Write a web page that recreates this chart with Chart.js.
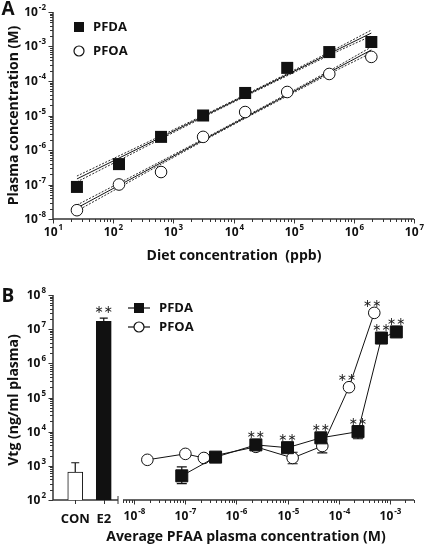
<!DOCTYPE html>
<html>
<head>
    <title>PFDA / PFOA plasma levels and Vtg</title>
    <script src="https://cdn.jsdelivr.net/npm/chart.js"></script>
    <style>
        body {
            margin: 0;
            background: #fff;
        }
        #wrap {
            position: relative;
            width: 426px;
            height: 549px;
        }
        #wrap canvas {
            position: absolute;
            left: 0;
            top: 0;
        }
    </style>
</head>
<body>
    <div id="wrap">
        <canvas id="chartA" width="426" height="549"></canvas>
        <canvas id="chartBars" width="426" height="549"></canvas>
        <canvas id="chartB" width="426" height="549"></canvas>
    </div>

    <script>
        // ---- Panel A: plasma vs diet ----
        const dietPpb = [25, 125, 625, 3125, 15625, 78125, 390625, 1953125];
        const pfdaPlasma = [8.5e-8, 3.9e-7, 2.4e-6, 1.0e-5, 4.5e-5, 2.4e-4, 6.9e-4, 1.35e-3];
        const pfoaPlasma = [1.8e-8, 1.0e-7, 2.3e-7, 2.4e-6, 1.26e-5, 4.8e-5, 1.6e-4, 5.0e-4];

        // regression lines and 95% bands at these diet levels
        const fitX = [25, 625, 6900, 390625, 1953125];
        const pfdaFit = [1.45e-7, 2.34e-6, 1.86e-5, 6.17e-4, 2.45e-3];
        const pfdaFitHi = [1.76e-7, 2.6e-6, 1.97e-5, 6.84e-4, 2.99e-3];
        const pfdaFitLo = [1.19e-7, 2.11e-6, 1.76e-5, 5.56e-4, 2.02e-3];
        const pfoaFit = [2.09e-8, 4.27e-7, 4.07e-6, 1.78e-4, 7.94e-4];
        const pfoaFitHi = [2.54e-8, 4.73e-7, 4.31e-6, 1.97e-4, 9.66e-4];
        const pfoaFitLo = [1.72e-8, 3.85e-7, 3.85e-6, 1.60e-4, 6.53e-4];

        // ---- Panel B: Vtg ----
        const ctrlLabels = ['CON', 'E2'];
        const ctrlVtg = [660, 1.7e7];
        const ctrlVtgHi = [1230, 2.1e7];
        const ctrlSig = [false, true];

        // x values of panel B are the plasma concentrations above
        const pfdaVtg = [510, 1800, 4100, 3400, 6600, 1.0e4, 5.5e6, 8.3e6];
        const pfdaVtgLo = [300, null, null, null, null, 6200, null, null];
        const pfdaVtgHi = [930, null, null, null, null, 14800, null, null];
        const pfdaSig = [0, 0, 1, 1, 1, 1, 1, 1];

        const pfoaVtg = [1500, 2240, 1700, 3600, 1700, 3800, 2.0e5, 3.0e7];
        const pfoaVtgLo = [null, null, null, null, 1150, 2400, null, null];
        const pfoaVtgHi = [null, null, null, null, 2500, 6000, null, null];
        const pfoaSig = [0, 0, 0, 0, 0, 0, 1, 1];

        const FONT = '"Open Sans", Lato, sans-serif';
        const INK = '#111';
        const AXIS = '#333';

        // ---- drawing helpers ----
        function xy(a, b) {
            return a.map((v, i) => ({ x: v, y: b[i] }));
        }

        function logTicks(min, max) {
            const out = [];
            const d0 = Math.floor(Math.log10(min) + 1e-9);
            const d1 = Math.ceil(Math.log10(max) - 1e-9);
            for (let d = d0; d <= d1; d++) {
                for (let k = 1; k < 10; k++) {
                    const v = k * Math.pow(10, d);
                    if (v >= min * 0.999 && v <= max * 1.001) out.push({ v: v, major: k === 1, exp: d });
                }
            }
            return out;
        }

        // "10" with raised exponent
        function powLabel(ctx, x, y, exp, align) {
            ctx.font = 'bold 12px ' + FONT;
            const wb = ctx.measureText('10').width;
            ctx.font = 'bold 8px ' + FONT;
            const es = String(exp);
            const we = ctx.measureText(es).width;
            const total = wb + 1 + we;
            const x0 = align === 'right' ? x - total : x - total / 2;
            ctx.fillStyle = INK;
            ctx.textAlign = 'left';
            ctx.textBaseline = 'middle';
            ctx.font = 'bold 12px ' + FONT;
            ctx.fillText('10', x0, y);
            ctx.font = 'bold 8px ' + FONT;
            ctx.fillText(es, x0 + wb + 1, y - 5);
        }

        function drawLogX(ctx, scale, y, x1, x2, labelY) {
            ctx.save();
            ctx.strokeStyle = AXIS;
            ctx.lineWidth = 1.5;
            ctx.beginPath();
            ctx.moveTo(x1, y);
            ctx.lineTo(x2, y);
            ctx.stroke();
            ctx.lineWidth = 1;
            logTicks(scale.min, scale.max).forEach(t => {
                const px = Math.round(scale.getPixelForValue(t.v)) + 0.5;
                ctx.beginPath();
                ctx.moveTo(px, y);
                ctx.lineTo(px, y + (t.major ? 4.5 : 3));
                ctx.stroke();
                if (t.major) powLabel(ctx, px, labelY, t.exp, 'center');
            });
            ctx.restore();
        }

        function drawLogY(ctx, scale, x, y1, y2) {
            ctx.save();
            ctx.strokeStyle = AXIS;
            ctx.lineWidth = 1.5;
            ctx.beginPath();
            ctx.moveTo(x, y1);
            ctx.lineTo(x, y2);
            ctx.stroke();
            ctx.lineWidth = 1;
            logTicks(scale.min, scale.max).forEach(t => {
                const py = Math.round(scale.getPixelForValue(t.v)) + 0.5;
                ctx.beginPath();
                ctx.moveTo(x, py);
                ctx.lineTo(x - (t.major ? 4.5 : 3), py);
                ctx.stroke();
                if (t.major) powLabel(ctx, x - 7, py, t.exp, 'right');
            });
            ctx.restore();
        }

        function text(ctx, str, x, y, size, align, rot) {
            ctx.save();
            ctx.fillStyle = INK;
            ctx.font = 'bold ' + size + 'px ' + FONT;
            ctx.textAlign = align || 'center';
            ctx.textBaseline = 'middle';
            ctx.translate(x, y);
            if (rot) ctx.rotate(rot);
            ctx.fillText(str, 0, 0);
            ctx.restore();
        }

        function stars(ctx, x, y) {
            ctx.save();
            ctx.fillStyle = '#222';
            ctx.font = '11px "DejaVu Sans", sans-serif';
            ctx.textAlign = 'center';
            ctx.textBaseline = 'middle';
            ctx.fillText('\u2217\u2217', x, y + 2);
            ctx.restore();
        }

        function errBar(ctx, x, yLo, yHi, cap) {
            ctx.save();
            ctx.strokeStyle = INK;
            ctx.lineWidth = 1.2;
            ctx.beginPath();
            ctx.moveTo(x, yLo);
            ctx.lineTo(x, yHi);
            ctx.moveTo(x - cap, yHi);
            ctx.lineTo(x + cap, yHi);
            ctx.moveTo(x - cap, yLo);
            ctx.lineTo(x + cap, yLo);
            ctx.stroke();
            ctx.restore();
        }

        function legendRow(ctx, x, y, style, label, withLine) {
            ctx.save();
            ctx.strokeStyle = INK;
            ctx.lineWidth = 1.2;
            if (withLine) {
                ctx.beginPath();
                ctx.moveTo(x - 11, y);
                ctx.lineTo(x + 11, y);
                ctx.stroke();
            }
            if (style === 'rect') {
                ctx.fillStyle = INK;
                ctx.fillRect(x - 5, y - 5, 10, 10);
            } else {
                ctx.fillStyle = '#fff';
                ctx.beginPath();
                ctx.arc(x, y, 5, 0, Math.PI * 2);
                ctx.fill();
                ctx.stroke();
            }
            ctx.restore();
            text(ctx, label, x + (withLine ? 20 : 14), y, 13, 'left');
        }

        Chart.defaults.font.family = FONT;
        Chart.defaults.animation = false;

        const commonOpts = {
            responsive: false,
            devicePixelRatio: 1,
            animation: false,
            plugins: { legend: { display: false }, tooltip: { enabled: false } }
        };

        // ---- Panel A ----
        const axesA = {
            id: 'axesA',
            beforeDatasetsDraw(chart) {
                const ctx = chart.ctx;
                const a = chart.chartArea;
                drawLogY(ctx, chart.scales.y, a.left, a.top, a.bottom);
                drawLogX(ctx, chart.scales.x, a.bottom, a.left, a.right, a.bottom + 14);
                text(ctx, 'A', 8, 10, 19, 'center');
                text(ctx, 'Plasma concentration (M)', 14, (a.top + a.bottom) / 2, 14, 'center', -Math.PI / 2);
                text(ctx, 'Diet concentration  (ppb)', 234, 256, 14, 'center');
                legendRow(ctx, 79, 27, 'rect', 'PFDA', false);
                legendRow(ctx, 79, 51, 'circle', 'PFOA', false);
            }
        };

        const fitLine = (data, dash) => ({
            data: xy(fitX, data),
            showLine: true,
            pointRadius: 0,
            borderColor: INK,
            borderWidth: dash ? 0.9 : 1,
            borderDash: dash ? [2, 1.5] : [],
            tension: 0.3,
            clip: false
        });

        new Chart(document.getElementById('chartA'), {
            type: 'scatter',
            data: {
                datasets: [
                    {
                        label: 'PFDA',
                        data: xy(dietPpb, pfdaPlasma),
                        pointStyle: 'rect',
                        pointRadius: 8.5,
                        backgroundColor: INK,
                        borderColor: INK,
                        borderWidth: 0,
                        clip: false
                    },
                    {
                        label: 'PFOA',
                        data: xy(dietPpb, pfoaPlasma),
                        pointStyle: 'circle',
                        pointRadius: 5.8,
                        backgroundColor: '#fff',
                        borderColor: INK,
                        borderWidth: 1,
                        clip: false
                    },
                    fitLine(pfdaFit, false),
                    fitLine(pfdaFitHi, true),
                    fitLine(pfdaFitLo, true),
                    fitLine(pfoaFit, false),
                    fitLine(pfoaFitHi, true),
                    fitLine(pfoaFitLo, true)
                ]
            },
            options: Object.assign({}, commonOpts, {
                layout: { padding: { left: 53, right: 12, top: 12, bottom: 330 } },
                scales: {
                    x: { type: 'logarithmic', min: 10, max: 1e7, display: false },
                    y: { type: 'logarithmic', min: 1e-8, max: 1e-2, display: false }
                }
            }),
            plugins: [axesA]
        });

        // ---- Panel B, control bars ----
        const axesBars = {
            id: 'axesBars',
            beforeDatasetsDraw(chart) {
                const ctx = chart.ctx;
                const a = chart.chartArea;
                const yAxisX = 53;
                drawLogY(ctx, chart.scales.y, yAxisX, a.top, a.bottom);
                ctx.save();
                ctx.strokeStyle = AXIS;
                ctx.lineWidth = 1.5;
                ctx.beginPath();
                ctx.moveTo(yAxisX, a.bottom);
                ctx.lineTo(a.right, a.bottom);
                ctx.stroke();
                ctx.lineWidth = 1;
                ctx.beginPath();
                ctx.moveTo(a.right, a.bottom - 4);
                ctx.lineTo(a.right, a.bottom + 4);
                ctrlLabels.forEach((lab, i) => {
                    const px = Math.round(chart.scales.x.getPixelForValue(i)) + 0.5;
                    ctx.moveTo(px, a.bottom);
                    ctx.lineTo(px, a.bottom + 4);
                });
                ctx.stroke();
                ctx.restore();
                ctrlLabels.forEach((lab, i) => {
                    text(ctx, lab, chart.scales.x.getPixelForValue(i), 519, 13, 'center');
                });
                text(ctx, 'B', 8, 297, 19, 'center');
                text(ctx, 'Vtg (ng/ml plasma)', 14, 400, 14, 'center', -Math.PI / 2);
            },
            afterDatasetsDraw(chart) {
                const ctx = chart.ctx;
                const meta = chart.getDatasetMeta(0);
                meta.data.forEach((bar, i) => {
                    const yHi = chart.scales.y.getPixelForValue(ctrlVtgHi[i]);
                    ctx.save();
                    ctx.strokeStyle = INK;
                    ctx.lineWidth = 1.2;
                    ctx.beginPath();
                    ctx.moveTo(bar.x, bar.y);
                    ctx.lineTo(bar.x, yHi);
                    ctx.moveTo(bar.x - 4, yHi);
                    ctx.lineTo(bar.x + 4, yHi);
                    ctx.stroke();
                    ctx.restore();
                    if (ctrlSig[i]) stars(ctx, bar.x, yHi - 10);
                });
            }
        };

        new Chart(document.getElementById('chartBars'), {
            type: 'bar',
            data: {
                labels: ctrlLabels,
                datasets: [{
                    data: ctrlVtg,
                    base: 100,
                    backgroundColor: ['#fff', INK],
                    borderColor: INK,
                    borderWidth: 1,
                    borderSkipped: 'bottom',
                    barThickness: 15
                }]
            },
            options: Object.assign({}, commonOpts, {
                layout: { padding: { left: 61, right: 308, top: 295, bottom: 49 } },
                scales: {
                    x: { type: 'category', display: false },
                    y: { type: 'logarithmic', min: 100, max: 1e8, display: false }
                }
            }),
            plugins: [axesBars]
        });

        // ---- Panel B, dose response ----
        const axesB = {
            id: 'axesB',
            beforeDatasetsDraw(chart) {
                const ctx = chart.ctx;
                const a = chart.chartArea;
                const sx = chart.scales.x, sy = chart.scales.y;
                drawLogX(ctx, sx, a.bottom, a.left, a.right, 517);
                text(ctx, 'Average PFAA plasma concentration (M)', 246, 537, 14, 'center');
                legendRow(ctx, 139, 308, 'rect', 'PFDA', true);
                legendRow(ctx, 139, 327, 'circle', 'PFOA', true);
                const bars = [[pfdaPlasma, pfdaVtgLo, pfdaVtgHi], [pfoaPlasma, pfoaVtgLo, pfoaVtgHi]];
                bars.forEach(([xs, lo, hi]) => {
                    xs.forEach((v, i) => {
                        if (lo[i] == null) return;
                        errBar(ctx, sx.getPixelForValue(v), sy.getPixelForValue(lo[i]), sy.getPixelForValue(hi[i]), 5);
                    });
                });
            },
            afterDatasetsDraw(chart) {
                const ctx = chart.ctx;
                const sx = chart.scales.x, sy = chart.scales.y;
                pfdaPlasma.forEach((v, i) => {
                    if (!pfdaSig[i]) return;
                    const top = Math.min(sy.getPixelForValue(pfdaVtg[i]) - 6, pfdaVtgHi[i] ? sy.getPixelForValue(pfdaVtgHi[i]) : 1e9);
                    stars(ctx, sx.getPixelForValue(v), top - 6);
                });
                pfoaPlasma.forEach((v, i) => {
                    if (!pfoaSig[i]) return;
                    stars(ctx, sx.getPixelForValue(v) - 2, sy.getPixelForValue(pfoaVtg[i]) - 11);
                });
            }
        };

        new Chart(document.getElementById('chartB'), {
            type: 'scatter',
            data: {
                datasets: [
                    {
                        label: 'PFDA',
                        data: xy(pfdaPlasma, pfdaVtg),
                        showLine: true,
                        pointStyle: 'rect',
                        pointRadius: 8.5,
                        backgroundColor: INK,
                        borderColor: INK,
                        borderWidth: 1,
                        clip: false
                    },
                    {
                        label: 'PFOA',
                        data: xy(pfoaPlasma, pfoaVtg),
                        showLine: true,
                        pointStyle: 'circle',
                        pointRadius: 5.8,
                        pointBackgroundColor: '#fff',
                        backgroundColor: '#fff',
                        borderColor: INK,
                        borderWidth: 1,
                        clip: false
                    }
                ]
            },
            options: Object.assign({}, commonOpts, {
                layout: { padding: { left: 123, right: 12, top: 295, bottom: 49 } },
                scales: {
                    x: { type: 'logarithmic', min: 6e-9, max: 3e-3, display: false },
                    y: { type: 'logarithmic', min: 100, max: 1e8, display: false }
                }
            }),
            plugins: [axesB]
        });
    </script>
</body>
</html>
